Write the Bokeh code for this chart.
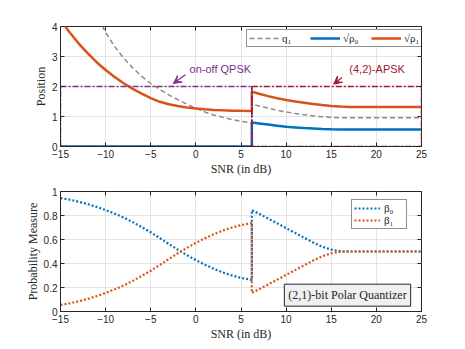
from bokeh.plotting import figure
from bokeh.layouts import column
from bokeh.models import (Legend, LegendItem, Label, Arrow, VeeHead, LinearAxis, Range1d,
                          SingleIntervalTicker, CustomJSTickFormatter)
from bokeh.embed import file_html
from bokeh.resources import INLINE

# ---------------- data ----------------
snr_lo = [-15, -14, -13, -12, -11, -10, -9, -8, -7, -6, -5, -4, -3, -2, -1, 0, 1, 2, 3, 4, 5, 6.2]
snr_hi = [6.2, 7, 8, 9, 10, 11, 12, 13, 14, 15, 16, 17, 18, 19, 20, 21, 22, 23, 24, 25]

q1_lo = [6.6, 6.0, 5.5, 5.0, 4.4, 3.8, 3.33, 2.95, 2.62, 2.34, 2.1, 1.9, 1.72, 1.56, 1.41,
         1.27, 1.15, 1.05, 0.97, 0.9, 0.84, 0.78]
q1_hi = [1.41, 1.35, 1.28, 1.21, 1.15, 1.10, 1.06, 1.02, 0.99, 0.97, 0.96, 0.96, 0.96, 0.96,
         0.96, 0.96, 0.96, 0.96, 0.96, 0.96]
rho0_lo = [0, 0, 0, 0, 0, 0, 0, 0, 0, 0, 0, 0, 0, 0, 0, 0, 0, 0, 0, 0, 0, 0]
rho0_hi = [0.80, 0.77, 0.73, 0.69, 0.655, 0.635, 0.615, 0.60, 0.585, 0.575, 0.57, 0.57, 0.57,
           0.57, 0.57, 0.57, 0.57, 0.57, 0.57, 0.57]
rho1_lo = [4.22, 3.81, 3.44, 3.11, 2.81, 2.55, 2.32, 2.11, 1.92, 1.76, 1.61, 1.49, 1.41, 1.35,
           1.30, 1.27, 1.24, 1.22, 1.205, 1.195, 1.19, 1.185]
rho1_hi = [1.83, 1.76, 1.68, 1.61, 1.55, 1.50, 1.46, 1.42, 1.38, 1.35, 1.33, 1.32, 1.32, 1.32,
           1.32, 1.32, 1.32, 1.32, 1.32, 1.32]

beta0_lo = [0.945, 0.932, 0.915, 0.895, 0.872, 0.845, 0.815, 0.783, 0.745, 0.703, 0.66, 0.612,
            0.563, 0.515, 0.47, 0.428, 0.39, 0.355, 0.325, 0.30, 0.28, 0.263]
beta0_hi = [0.845, 0.815, 0.775, 0.735, 0.695, 0.655, 0.615, 0.575, 0.54, 0.515, 0.503, 0.5,
            0.5, 0.5, 0.5, 0.5, 0.5, 0.5, 0.5, 0.5]
beta1_lo = [0.055, 0.068, 0.085, 0.105, 0.128, 0.155, 0.185, 0.217, 0.255, 0.297, 0.34, 0.388,
            0.437, 0.485, 0.53, 0.572, 0.61, 0.645, 0.675, 0.70, 0.72, 0.737]
beta1_hi = [0.155, 0.185, 0.225, 0.265, 0.305, 0.345, 0.385, 0.425, 0.46, 0.485, 0.497, 0.5,
            0.5, 0.5, 0.5, 0.5, 0.5, 0.5, 0.5, 0.5]

jump_snr = 6.2
x_ticks_interval = 5

snr = snr_lo + snr_hi
q1 = q1_lo + q1_hi
rho0 = rho0_lo + rho0_hi
rho1 = rho1_lo + rho1_hi
beta0 = beta0_lo + beta0_hi
beta1 = beta1_lo + beta1_hi

# ---------------- styles ----------------
BLUE = "#0072BD"
ORANGE = "#D95319"
GRAY = "#8c8c8c"
PURPLE = "#7E2F8E"
CRIMSON = "#A2142F"
AX = "#262626"
SANS = "Liberation Sans"
SERIF = "Liberation Serif"

blank = CustomJSTickFormatter(code="return '';")


def style(p, ylabel, yint, yfmt=None):
    p.xaxis.axis_label = "SNR (in dB)"
    p.yaxis.axis_label = ylabel
    for ax in (p.xaxis[0], p.yaxis[0]):
        ax.axis_label_text_font = SERIF
        ax.axis_label_text_font_size = "12px"
        ax.axis_label_text_font_style = "normal"
        ax.axis_label_text_color = AX
        ax.major_label_text_font = SANS
        ax.major_label_text_font_size = "10px"
        ax.major_label_text_color = AX
        ax.axis_line_color = AX
        ax.major_tick_line_color = AX
        ax.major_tick_in = 4
        ax.major_tick_out = 0
        ax.minor_tick_in = 0
        ax.minor_tick_out = 0
        ax.major_label_standoff = 3
        ax.axis_label_standoff = 1
    p.xaxis.ticker = SingleIntervalTicker(interval=x_ticks_interval)
    p.yaxis.ticker = SingleIntervalTicker(interval=yint)
    if yfmt is not None:
        p.yaxis.formatter = yfmt
    p.xgrid.ticker = SingleIntervalTicker(interval=x_ticks_interval)
    p.ygrid.ticker = SingleIntervalTicker(interval=yint)
    p.grid.grid_line_color = "#e3e3e3"
    p.outline_line_color = AX
    p.outline_line_alpha = 1
    r = LinearAxis(ticker=SingleIntervalTicker(interval=yint), formatter=blank,
                   axis_line_color=None, major_tick_in=4, major_tick_out=0,
                   minor_tick_in=0, minor_tick_out=0, major_tick_line_color=AX,
                   major_label_standoff=0)
    p.add_layout(r, "right")
    t = LinearAxis(ticker=SingleIntervalTicker(interval=x_ticks_interval), formatter=blank,
                   axis_line_color=None, major_tick_in=4, major_tick_out=0,
                   minor_tick_in=0, minor_tick_out=0, major_tick_line_color=AX,
                   major_label_standoff=0)
    p.add_layout(t, "above")


# ---------------- top figure ----------------
p1 = figure(width=445, height=178, output_backend="svg", toolbar_location=None,
            x_range=Range1d(-15, 25), y_range=Range1d(0, 4),
            min_border_left=60, min_border_right=24, min_border_top=26, min_border_bottom=32)
style(p1, "Position", 1)

r_q1 = p1.line(snr, q1, line_color=GRAY, line_width=1.5, line_dash="5 3")
r_r0 = p1.line(snr, rho0, line_color=BLUE, line_width=2.5)
r_r1 = p1.line(snr, rho1, line_color=ORANGE, line_width=2.5)

p1.quad(left=[-15], right=[jump_snr], bottom=[0], top=[2], fill_alpha=0,
        line_color=PURPLE, line_width=1.5, line_dash="6 2 2 2")
p1.quad(left=[jump_snr], right=[25], bottom=[0], top=[2], fill_alpha=0,
        line_color=CRIMSON, line_width=1.5, line_dash="6 2 2 2")

leg1 = Legend(items=[LegendItem(label="q\u2081", renderers=[r_q1]),
                     LegendItem(label="\u221a\u03c1\u2080", renderers=[r_r0]),
                     LegendItem(label="\u221a\u03c1\u2081", renderers=[r_r1])],
              orientation="horizontal", location=(186, 99),
              label_text_font=SERIF, label_text_font_size="11px", label_text_color=AX,
              glyph_width=30, glyph_height=10, label_height=10, label_standoff=3,
              spacing=8, padding=2, margin=0,
              border_line_color=AX, border_line_width=1, background_fill_alpha=1)
p1.add_layout(leg1)

p1.add_layout(Arrow(end=VeeHead(size=8, fill_color=PURPLE, line_color=PURPLE),
                    x_start=-1.15, y_start=2.39, x_end=-2.5, y_end=2.1,
                    line_color=PURPLE, line_width=1.2))
p1.add_layout(Label(x=-0.7, y=2.58, text="on-off QPSK", text_font=SANS, text_font_size="11px",
                    text_color=PURPLE, text_baseline="middle"))
p1.add_layout(Arrow(end=VeeHead(size=8, fill_color=CRIMSON, line_color=CRIMSON),
                    x_start=16.2, y_start=2.3, x_end=15.27, y_end=2.08,
                    line_color=CRIMSON, line_width=1.2))
p1.add_layout(Label(x=17.0, y=2.57, text="(4,2)-APSK", text_font=SANS, text_font_size="11px",
                    text_color=CRIMSON, text_baseline="middle"))

# ---------------- bottom figure ----------------
fmt = CustomJSTickFormatter(code="return parseFloat(tick.toFixed(2)).toString();")
p2 = figure(width=445, height=170, output_backend="svg", toolbar_location=None,
            x_range=Range1d(-15, 25), y_range=Range1d(0, 1),
            min_border_left=60, min_border_right=24, min_border_top=13, min_border_bottom=37)
style(p2, "Probability Measure", 0.2, fmt)

r_b0 = p2.line(snr, beta0, line_color=BLUE, line_width=2.2, line_dash="2 2")
r_b1 = p2.line(snr, beta1, line_color=ORANGE, line_width=2.2, line_dash="2 2")

leg2 = Legend(items=[LegendItem(label="\u03b2\u2080", renderers=[r_b0]),
                     LegendItem(label="\u03b2\u2081", renderers=[r_b1])],
              orientation="vertical", location=(291, 82),
              label_text_font=SERIF, label_text_font_size="11px", label_text_color=AX,
              glyph_width=26, glyph_height=10, label_height=10, label_standoff=4,
              spacing=0, padding=2, margin=0,
              border_line_color=AX, border_line_width=1, background_fill_alpha=1)
p2.add_layout(leg2)

p2.add_layout(Label(x=16.8, y=0.136, text="(2,1)-bit Polar Quantizer", text_font=SERIF,
                    text_font_size="12px", text_color=AX, text_align="center",
                    text_baseline="middle", background_fill_color="#f0f0f0",
                    border_line_color=AX, border_line_width=1, padding=4))

layout = column(p1, p2, spacing=0)
open("out.html", "w").write(file_html(layout, INLINE))
